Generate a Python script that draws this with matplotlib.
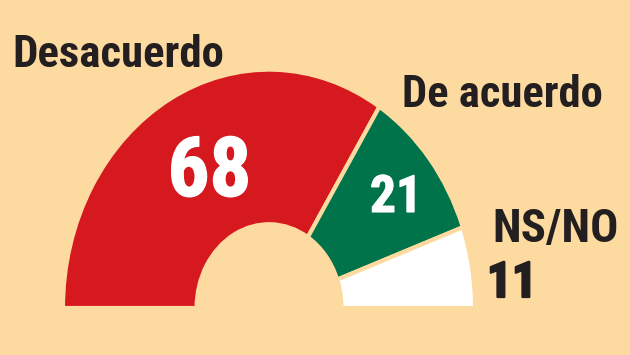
import os
import matplotlib
matplotlib.use("Agg")
import matplotlib.pyplot as plt
from matplotlib import font_manager as fm
import matplotlib.patheffects as pe

# Data
categories = ["Desacuerdo", "De acuerdo", "NS/NO"]
values = [68, 21, 11]
value_labels = ["68", "21", "11"]

bg = "#FDDAA0"
colors = ["#D6181F", "#00734A", "#FFFFFF"]
dark = "#231F20"


# pick a condensed bold face if one is installed, else a compact sans
def pick_font():
    prefs = ["liberationsansnarrow", "robotocondensed", "opensanscondensed",
             "notosanscondensed", "notosans-condensed", "dejavusanscondensed",
             "latocondensed"]
    files = []
    for f in fm.fontManager.ttflist:
        b = os.path.basename(f.fname).lower().replace(" ", "").replace("_", "")
        if ("italic" in b or "oblique" in b):
            continue
        files.append((b, f))
    for p in prefs:
        for b, f in files:
            if b.startswith(p) and "bold" in b and "semi" not in b \
                    and "extra" not in b and "ultra" not in b:
                return fm.FontProperties(fname=f.fname)
        for b, f in files:
            if b.startswith(p) and f.weight in (700, "bold"):
                return fm.FontProperties(fname=f.fname)
    return fm.FontProperties(family="Lato", weight="bold")


FP = pick_font()

W, H = 630, 355
fig = plt.figure(figsize=(W / 100, H / 100), dpi=100)
fig.patch.set_facecolor(bg)
ax = fig.add_axes([0, 0, 1, 1])
ax.set_facecolor(bg)

cx, cy = 269, 308      # centre in pixels
rx, ry = 204, 236      # outer radii in pixels


def to_data(px, py):
    return (px - cx) / rx, (cy - py) / ry


total = sum(values)
wedges, _ = ax.pie(values + [total], startangle=180, counterclock=False,
                   colors=colors + ["none"], radius=1.01,
                   wedgeprops=dict(width=0.655, edgecolor=bg, linewidth=3))
wedges[-1].set_visible(False)

ax.set_aspect("auto")
x0, y0 = to_data(0, H)
x1, y1 = to_data(W, 0)
ax.set_xlim(x0, x1)
ax.set_ylim(y0, y1)
ax.axis("off")

# (text, px left/centre, baseline py, target width px, cap height px, colour, ha, stroke)
specs = [
    (categories[0], 12, 67, 208, 33, dark, "left", 0),
    (categories[1], 402, 107, 201, 31, dark, "left", 0),
    (categories[2], 492, 242, 125, 34, dark, "left", 0),
    (value_labels[0], 209.5, 196, 79, 63, "white", "center", 1.0),
    (value_labels[1], 396, 212, 52, 37, "white", "center", 0.8),
    (value_labels[2], 487, 297, 48, 37, dark, "left", 1.6),
]

texts = []
for s, px, py, tw, ch, col, ha, sw in specs:
    x, y = to_data(px, py)
    fs0 = ch  # cap height ~0.72 em; px->pt factor 0.72 at dpi 100
    t = ax.text(x, y, s, ha=ha, va="baseline", color=col,
                fontproperties=FP, fontsize=fs0)
    if sw:
        t.set_path_effects([pe.withStroke(linewidth=sw, foreground=col)])
    texts.append((t, tw, fs0))

fig.canvas.draw()
r = fig.canvas.get_renderer()
for t, tw, fs0 in texts:
    w = t.get_window_extent(r).width
    fs_w = fs0 * tw / w
    if fs_w < fs0:
        fs = (fs0 * fs_w) ** 0.5
    else:
        fs = min(fs0 * 1.04, fs_w)
    t.set_fontsize(fs)

fig.savefig("out.png", dpi=100, facecolor=bg)
